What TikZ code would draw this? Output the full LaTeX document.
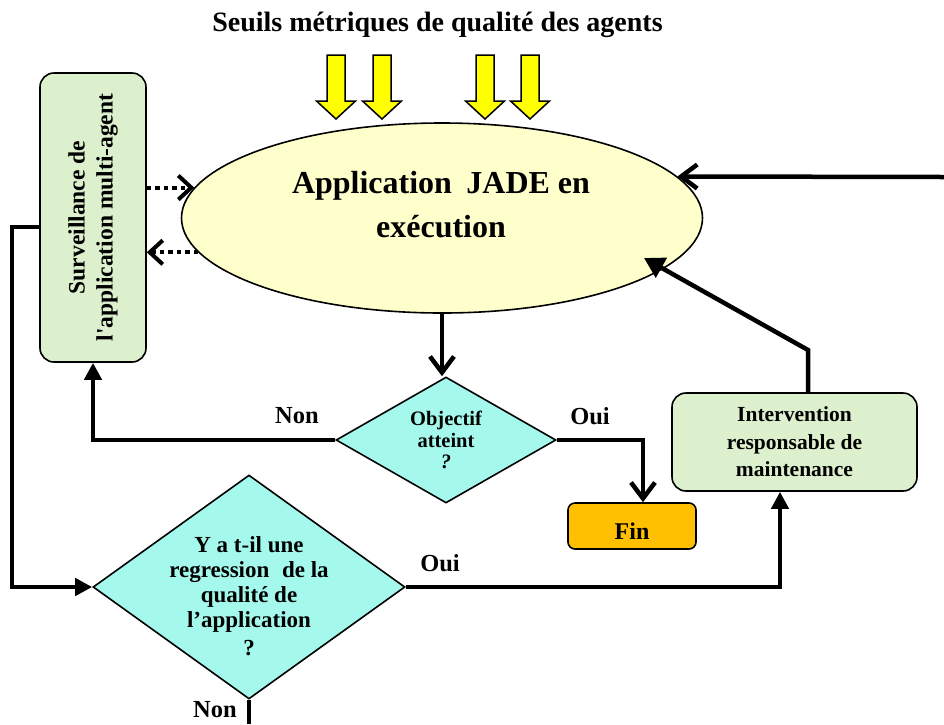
\documentclass[tikz,border=0pt]{standalone}
\usepackage{fontspec}
\setmainfont{Liberation Serif}
\usepackage{graphicx}
\usetikzlibrary{shapes.geometric,arrows.meta}

\definecolor{appfill}{RGB}{255,255,204}
\definecolor{decfill}{RGB}{164,249,236}
\definecolor{boxfill}{RGB}{221,240,206}
\definecolor{finfill}{RGB}{255,192,0}
\definecolor{thrfill}{RGB}{255,255,0}

\newcommand\setfs[2]{\fontsize{#1}{#2}\selectfont\bfseries}

\begin{document}
\begin{tikzpicture}[x=1pt,y=-1pt,
  shapeline/.style={draw=black,line width=1.6pt},
  greenbox/.style={shapeline,fill=boxfill,rounded corners=14pt,align=center,inner sep=0pt},
  decision/.style={shapeline,fill=decfill,diamond,aspect=1.75,align=center,inner sep=0pt},
  conn/.style={line width=4.5pt},
  vhead/.style={-{Straight Barb[length=16pt,width=24pt]}},
  thead/.style={-{Triangle[length=17pt,width=17pt]}},
  dotconn/.style={line width=4pt,dash pattern=on 4.5pt off 4pt,-{Straight Barb[length=13pt,width=24pt]}},
  lbl/.style={font=\setfs{24.5}{28}}
]
\useasboundingbox (0,0) rectangle (944,724);

% title and the four threshold arrows
\node[font=\setfs{28}{34}] (title) at (437.5,25) {Seuils métriques de qualité des agents};
\foreach \cx in {336,382,485,530}
  \draw[line width=1.5pt,fill=thrfill,line join=miter]
    (\cx-9,55) -- (\cx+9,55) -- (\cx+9,101) -- (\cx+19.5,101) -- (\cx,119)
    -- (\cx-19.5,101) -- (\cx-9,101) -- cycle;

% running application
\node[ellipse,shapeline,fill=appfill,minimum width=521pt,minimum height=190pt,inner sep=0pt] (app) at (442,218) {};
\node[font=\setfs{32}{44},align=center] (appT) at (441,205) {Application\hspace{0.45em}JADE en\\exécution};

% monitoring box
\node[greenbox,minimum width=106pt,minimum height=289pt,font=\setfs{23.5}{28}] (surv) at (93,217.5)
  {\rotatebox{90}{\begin{tabular}{@{}c@{}}Surveillance de\\l\textquotesingle application multi-agent\end{tabular}}};

% goal reached?
\node[decision,minimum width=220pt,minimum height=126pt,font=\setfs{20.5}{21.5}] (d1) at (446,440)
  {Objectif\\atteint\\\textit{?}};

% end
\node[shapeline,fill=finfill,rounded corners=7pt,minimum width=128pt,minimum height=46pt,
  inner sep=0pt,font=\setfs{24}{28},text height=26pt,text depth=0pt] (fin) at (632,526) {Fin};

% maintenance intervention
\node[greenbox,minimum width=245pt,minimum height=98pt,font=\setfs{21.5}{27.5}] (intv) at (794.5,442)
  {Intervention\\responsable de\\maintenance};

% quality regression?
\node[decision,minimum width=312pt,minimum height=224pt] (d2) at (249,587) {};
\node[font=\setfs{23}{25},align=center] (d2T) at (249,596)
  {Y a t-il une\\regression\hspace{0.3em} de la\\qualité de\\l’application\\[3pt]?};

% branch labels
\node[lbl] (non1) at (297,416) {Non};
\node[lbl] (oui1) at (590,416) {Oui};
\node[lbl] (oui2) at (440,563) {Oui};
\node[lbl] (non2) at (215,710) {Non};

% free ends of connectors
\coordinate (lc) at (12,227);
\coordinate (ib) at (808,350);
\coordinate (jt) at (644,258);
\coordinate (re) at (944,177);
\coordinate (nb) at (249,724);

% connectors
\draw[conn,vhead] (app.south) -- (app.south |- d1.north);
\draw[conn,thead] (d1.west) -| (surv.south);
\draw[conn,vhead] (d1.east) -| ([xshift=11pt]fin.north);
\draw[conn,thead] (surv.west |- lc) -- (lc) |- (d2.west);
\draw[conn,thead] (d2.east) -| ([xshift=-14.5pt]intv.south);
\draw[conn] (d2.south) -- (nb);
\draw[conn,-{Triangle[length=20pt,width=22pt]}] ([xshift=13.5pt]intv.north) -- (ib) -- (jt);
\draw[conn,vhead] (re) -- (app.10);

% monitoring exchanges
\draw[dotconn] (app.173 -| surv.east) -- (app.173);
\draw[dotconn] (app.188) -- (app.188 -| surv.east);
\end{tikzpicture}
\end{document}
